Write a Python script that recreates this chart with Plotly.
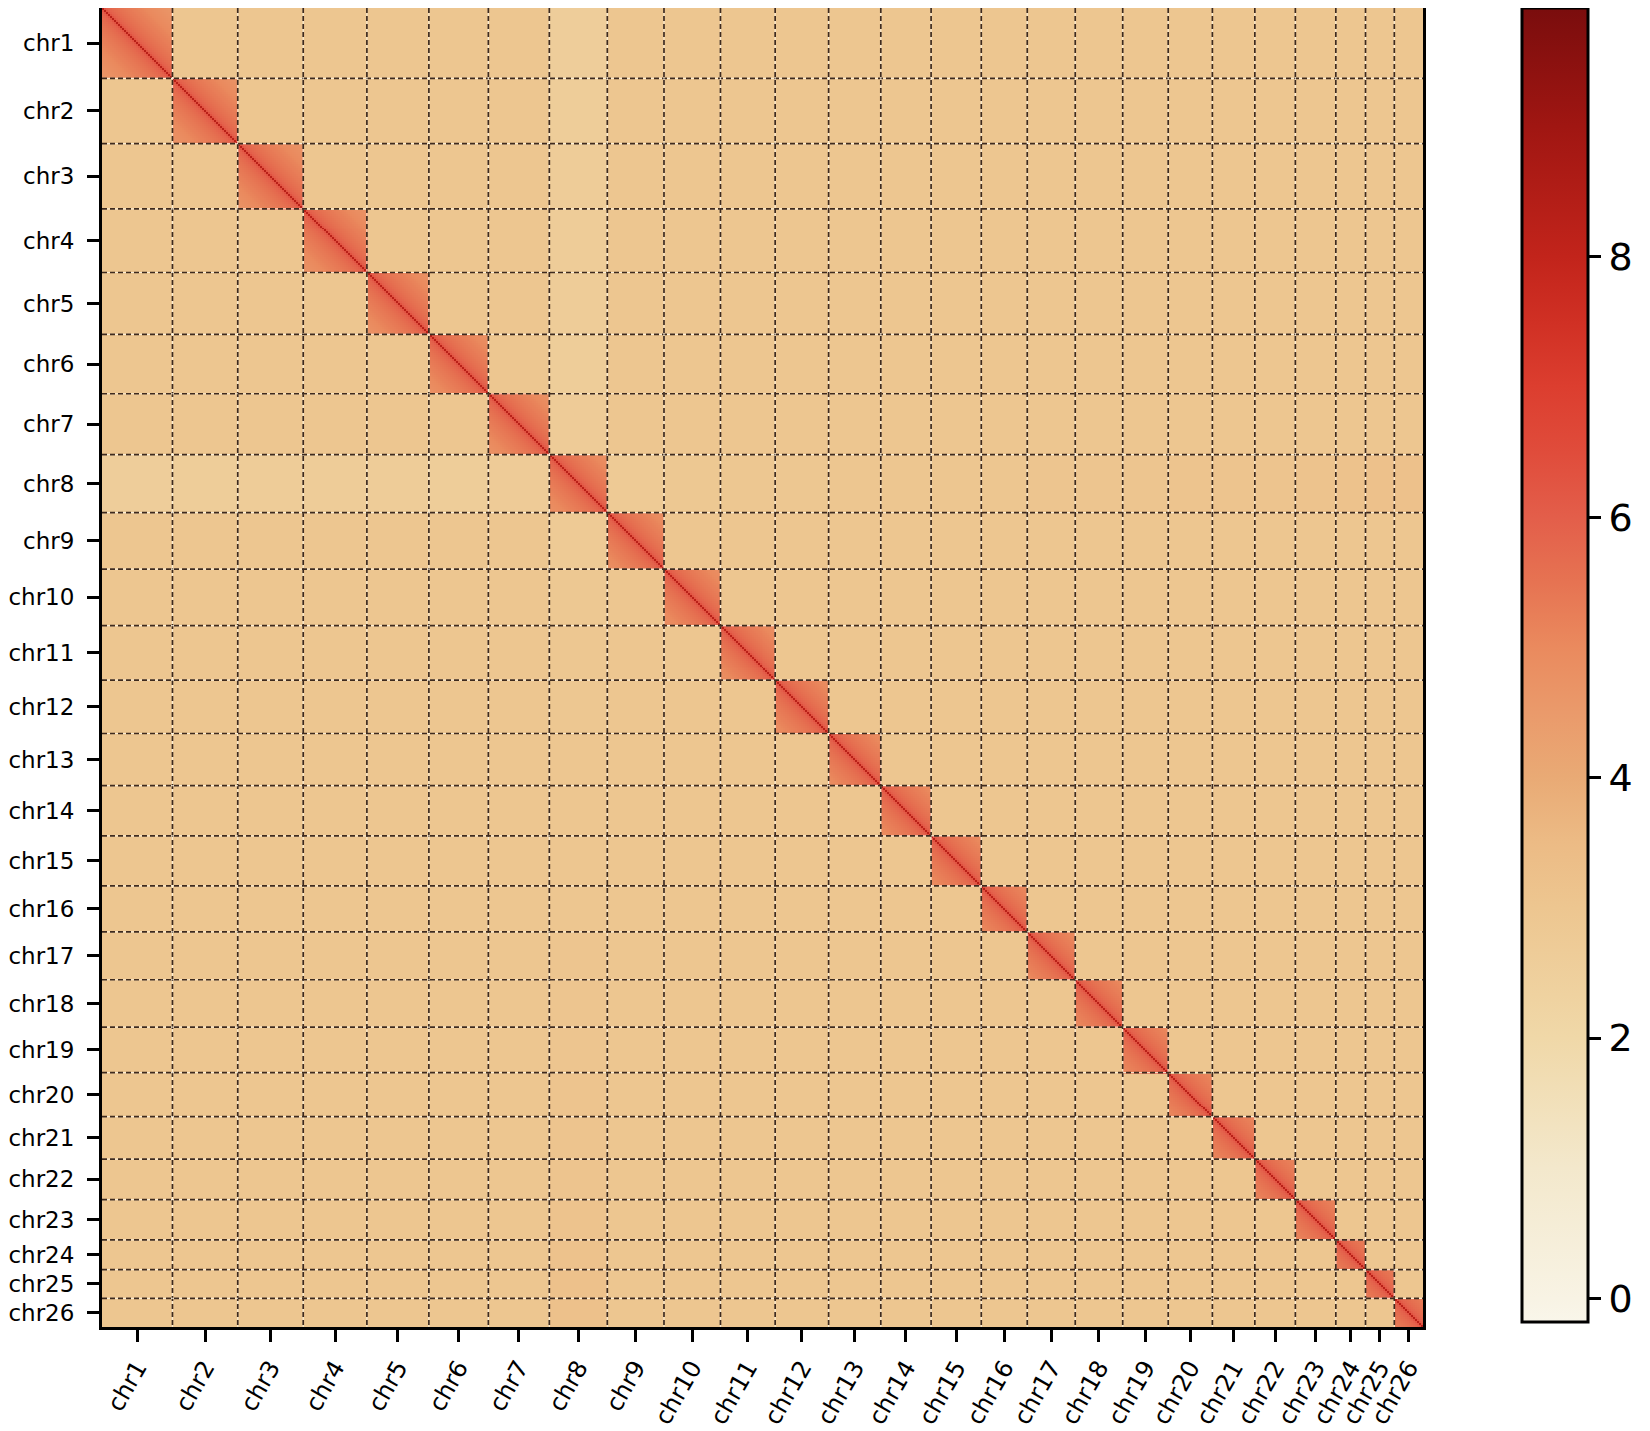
import numpy as np
import plotly.graph_objects as go

# chromosome names and lengths (length units, ~1 unit per pixel)
chrom_names = [f"chr{i}" for i in range(1, 27)]
chrom_sizes = [70.5, 65.3, 65.5, 63.7, 62.0, 59.5, 61.0, 58.0, 56.7, 56.5,
               54.7, 53.5, 52.2, 50.3, 50.2, 46.0, 48.0, 47.5, 45.5, 44.2,
               42.5, 40.5, 40.5, 29.7, 28.8, 28.7]

# intra-chromosomal contact level by distance from the diagonal (in bins)
intra_decay = [8.3, 6.3, 6.0, 5.88, 5.8, 5.72, 5.66, 5.6, 5.55, 5.5,
               5.46, 5.42, 5.38, 5.34, 5.3, 5.27, 5.24, 5.2, 5.16, 5.12,
               5.07, 5.03, 5.0, 4.97, 4.94, 4.9, 4.87, 4.84, 4.81, 4.78,
               4.75, 4.72, 4.69, 4.66, 4.63, 4.6, 4.57]

# inter-chromosomal background level, and the lighter chr8 row / column
inter_value = 3.0
chr8_inter = [2.6, 2.62, 2.65, 2.65, 2.65, 2.62, 2.7, 0.0, 2.8, 2.9,
              2.95, 2.95, 3.0, 3.0, 3.0, 3.0, 3.05, 3.05, 3.05, 3.1,
              3.1, 3.1, 3.15, 3.2, 3.25, 3.25]

# colour bar scale
z_min, z_max = -0.18, 9.91
cmap_values = [-0.18, 0, 1, 2, 3, 3.5, 4, 4.5, 5, 5.5, 6, 6.5, 7, 7.5, 8, 9, 9.91]
cmap_colors = ["#F9F6EA", "#F8F3E4", "#F3E8CC", "#F0D8A8", "#EDC690", "#ECBB85",
               "#E9AA75", "#EA9A6B", "#EA8A5E", "#E67352", "#E35E4A", "#E04C3B",
               "#DC3E2F", "#D03024", "#C2241B", "#A01612", "#7A0D0D"]

bin_size = 2.0

total = sum(chrom_sizes)
cum = np.concatenate([[0], np.cumsum(chrom_sizes)])
mids = (cum[:-1] + cum[1:]) / 2

nbins = int(round(total / bin_size))
edges = np.linspace(0, total, nbins + 1)
centers = (edges[:-1] + edges[1:]) / 2
idx = np.searchsorted(cum, centers, side="right") - 1

ii, jj = np.meshgrid(np.arange(nbins), np.arange(nbins), indexing="ij")
dist = np.minimum(np.abs(ii - jj), len(intra_decay) - 1)
decay = np.array(intra_decay)

ci = idx[:, None].repeat(nbins, 1)
cj = idx[None, :].repeat(nbins, 0)

z = np.full((nbins, nbins), inter_value)
c8 = np.array(chr8_inter)
row8 = ci == 7
col8 = cj == 7
z[row8] = c8[cj[row8]]
z[col8] = c8[ci[col8]]
same = ci == cj
z[same] = decay[dist[same]]
z = z.astype(np.float32)

span = z_max - z_min
colorscale = [[(v - z_min) / span, c] for v, c in zip(cmap_values, cmap_colors)]

fig = go.Figure(go.Heatmap(
    x=centers, y=centers, z=z,
    zmin=z_min, zmax=z_max,
    colorscale=colorscale,
    zsmooth=False,
    colorbar=dict(
        x=1.075, xanchor="left", xpad=0,
        y=1.0, yanchor="top", ypad=0,
        len=0.996, lenmode="fraction",
        thickness=66,
        outlinewidth=3, outlinecolor="black",
        tickvals=[0, 2, 4, 6, 8],
        ticks="outside", ticklen=12, tickwidth=2.5, tickcolor="black",
        tickfont=dict(family="DejaVu Sans", size=38, color="black"),
    ),
    hovertemplate="%{x:.1f}, %{y:.1f}: %{z:.2f}<extra></extra>",
))

# chromosome boundary lines (light underlay + dark dashes)
shapes = []
for b in cum[1:-1]:
    for kind in ("v", "h"):
        if kind == "v":
            coords = dict(x0=b, x1=b, y0=0, y1=total)
        else:
            coords = dict(x0=0, x1=total, y0=b, y1=b)
        shapes.append(dict(type="line", xref="x", yref="y", layer="above",
                           line=dict(color="rgba(255,250,235,0.75)", width=1.2),
                           **coords))
        shapes.append(dict(type="line", xref="x", yref="y", layer="above",
                           line=dict(color="#3e2a1e", width=1.7, dash="5px,3px"),
                           **coords))

# page body adds an 8px offset, so the figure is sized to fit the window
fig.update_layout(
    width=1642, height=1423,
    margin=dict(l=94, r=227, t=0, b=104, autoexpand=False),
    paper_bgcolor="white",
    plot_bgcolor="white",
    font=dict(family="DejaVu Sans", color="black"),
    shapes=shapes,
)

fig.update_xaxes(
    range=[0, total], automargin=False,
    tickvals=mids, ticktext=chrom_names, tickangle=-60,
    ticks="outside", ticklen=12, tickwidth=2.5, tickcolor="black",
    tickfont=dict(family="DejaVu Sans", size=24, color="black"),
    showline=True, mirror=True, linewidth=3, linecolor="black",
    showgrid=False, zeroline=False, ticklabelstandoff=2,
)
fig.update_yaxes(
    range=[total, 0], automargin=False,
    tickvals=mids, ticktext=chrom_names,
    ticks="outside", ticklen=12, tickwidth=2.5, tickcolor="black",
    tickfont=dict(family="DejaVu Sans", size=23, color="black"),
    showline=True, mirror=True, linewidth=3, linecolor="black",
    showgrid=False, zeroline=False, ticklabelstandoff=8,
)

fig.write_html("out.html")
